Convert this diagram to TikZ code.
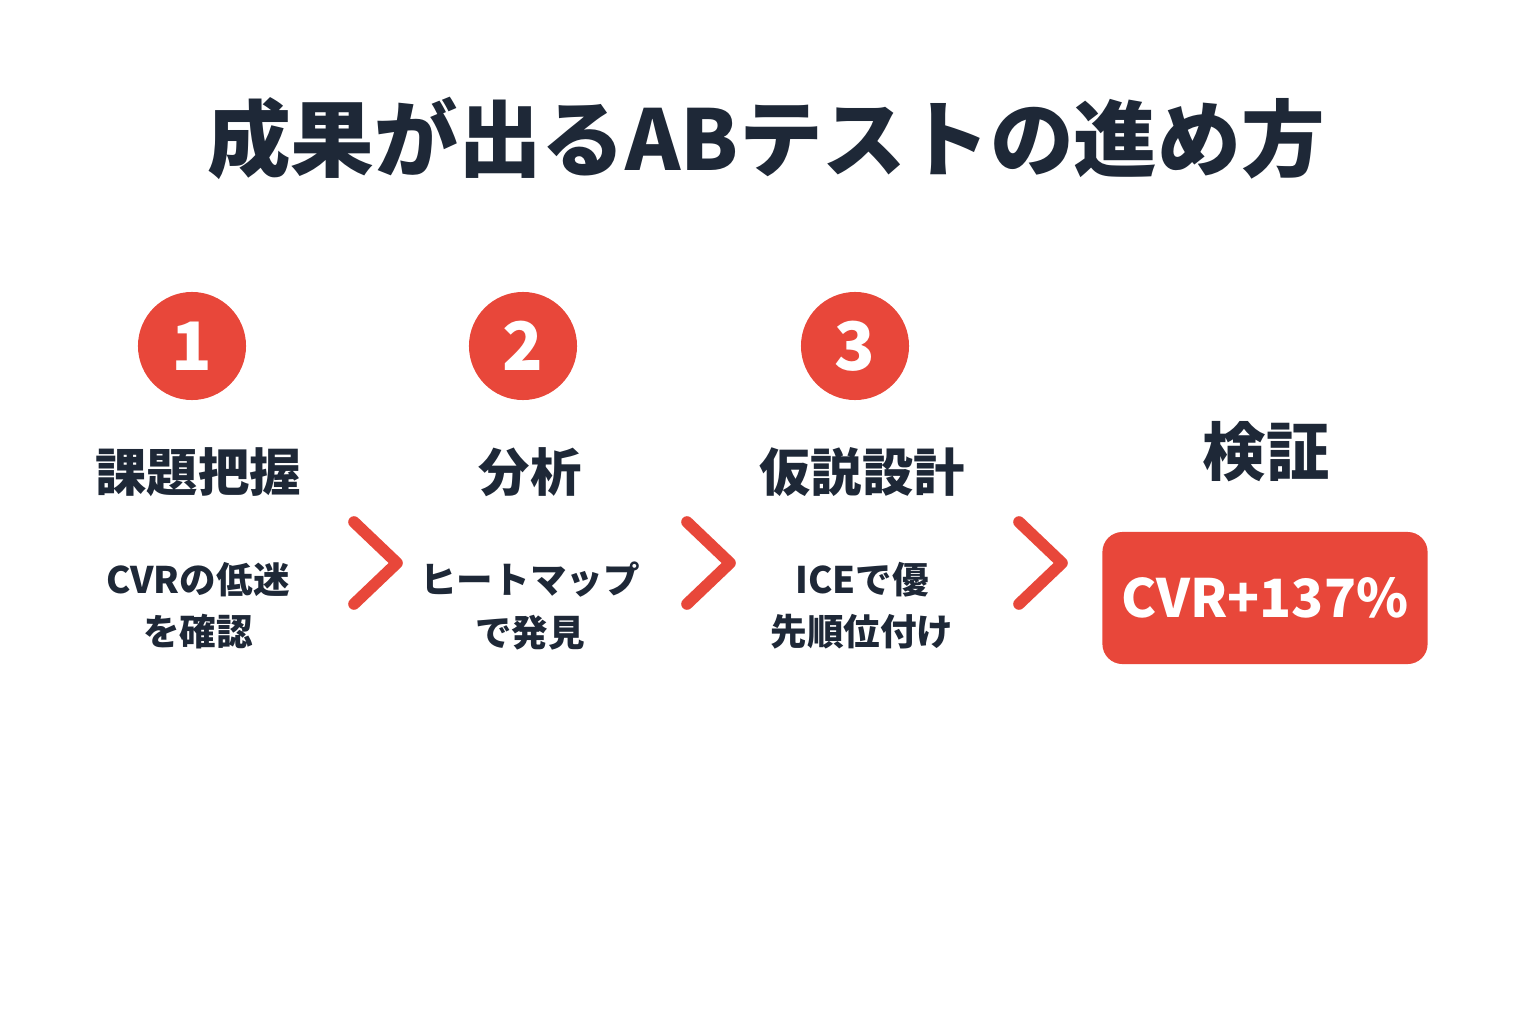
\documentclass[tikz,border=0pt]{standalone}
\usepackage{fontspec}
\setmainfont{Noto Sans CJK JP}
\usepackage{xcolor}
\definecolor{ink}{HTML}{1E2837}
\definecolor{accent}{HTML}{E8473A}
\usetikzlibrary{positioning}

\begin{document}
\begin{tikzpicture}[x=0.01cm, y=-0.01cm,
    stepnum/.style={circle, fill=accent, minimum size=1.08cm, inner sep=0pt,
        text=white, font=\bfseries\fontsize{19}{19}\selectfont},
    heading/.style={text=ink, font=\bfseries\fontsize{14.6}{16}\selectfont},
    subtext/.style={text=ink, align=center, font=\bfseries\fontsize{10.4}{14.8}\selectfont},
    chevron/.style={draw=accent, line width=3.3pt, line cap=round, line join=round},
    result/.style={fill=accent, rounded corners=0.2cm, minimum width=3.25cm,
        minimum height=1.32cm, inner sep=0pt, text=white, font=\bfseries\fontsize{15}{16}\selectfont}]
            % Canvas
            \fill[white] (0,0) rectangle (1536,1024);
            \useasboundingbox (0,0) rectangle (1536,1024);

            % Title
            \node[text=ink, font=\bfseries\fontsize{23.8}{26}\selectfont] (title) at (766,138) {成果が出るABテストの進め方};

            % Steps
            \node[stepnum] (n1) at (192,346) {1};
            \node[stepnum] (n2) at (523,346) {2};
            \node[stepnum] (n3) at (855,346) {3};

            \node[heading] (h1) at (198,472) {課題把握};
            \node[heading] (h2) at (530,472) {分析};
            \node[heading] (h3) at (862,472) {仮説設計};
            \node[heading, font=\bfseries\fontsize{18}{20}\selectfont] (h4) at (1266,452) {検証};

            \node[subtext] (s1) at (198,606) {CVRの低迷\\を確認};
            \node[subtext] (s2) at (530,606) {ヒートマップ\\で発見};
            \node[subtext] (s3) at (862,606) {ICEで優\\先順位付け};

            % Result
            \node[result] (res) at (1265,598) {CVR+137\%};

            % Chevrons
            \foreach \cx in {354, 687, 1019}
                \draw[chevron] (\cx,522) -- ({\cx+43},563) -- (\cx,604);
        \end{tikzpicture}
\end{document}
